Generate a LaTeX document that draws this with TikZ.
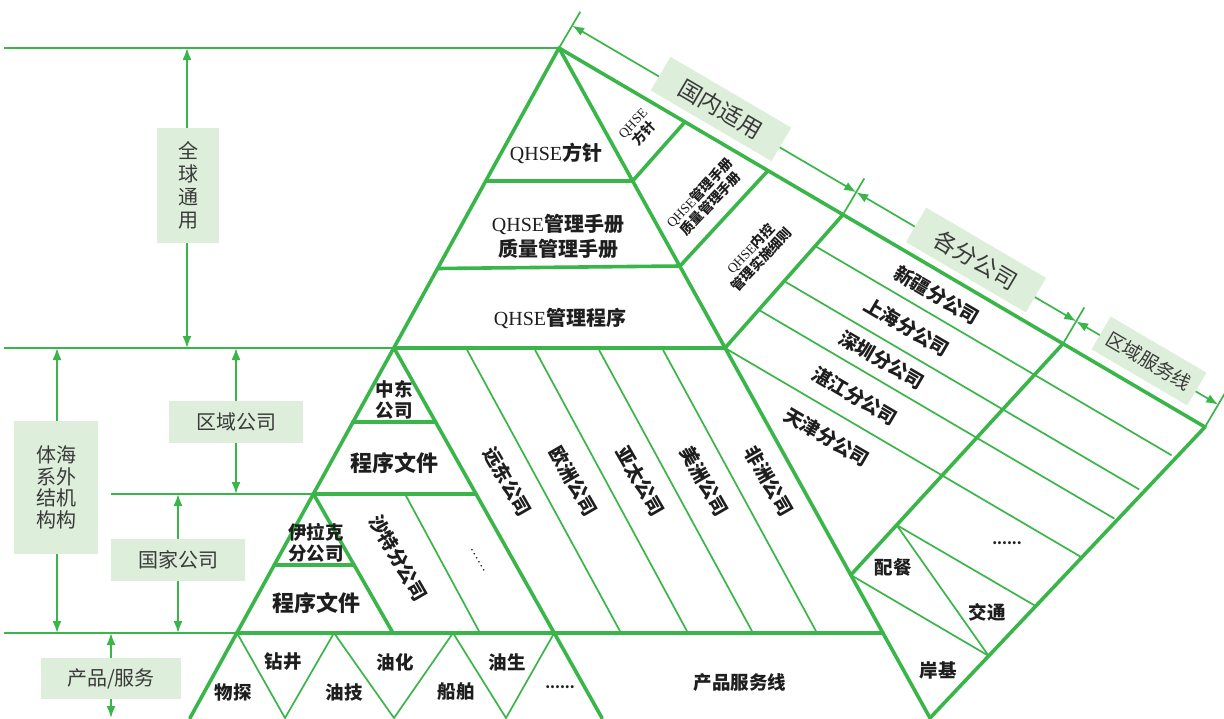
\documentclass[tikz,border=0pt]{standalone}
\usepackage{fontspec}
\setmainfont{Noto Sans CJK SC}
\newfontfamily\lat{Liberation Serif}
\usetikzlibrary{arrows.meta}
\definecolor{gr}{HTML}{3AB54A}
\definecolor{boxg}{HTML}{DDEEDB}
\definecolor{blk}{HTML}{1E1E1E}
\definecolor{dk}{HTML}{3A3A3A}
\newcommand\qhse{{\lat\mdseries QHSE}}
\begin{document}
\begin{tikzpicture}[x=1pt,y=-1pt,
 thk/.style={draw=gr,line width=3.6pt,line cap=round,line join=round},
 thn/.style={draw=gr,line width=1.7pt},
 arr/.style={draw=gr,line width=1.7pt,{Latex[length=12pt,width=9pt]}-{Latex[length=12pt,width=9pt]}},
 gbox/.style={fill=boxg,inner sep=0pt,text=dk,align=center,font=\fontsize{20}{23}\selectfont},
 lbl/.style={inner sep=0pt,text=blk,align=center,font=\bfseries\fontsize{18.5}{21}\selectfont},
 big/.style={lbl,font=\bfseries\fontsize{20}{25}\selectfont},
 prog/.style={lbl,font=\bfseries\fontsize{22}{24}\selectfont},
 sml/.style={lbl,font=\bfseries\fontsize{13.5}{15.5}\selectfont,rotate=46.7},
 sub/.style={lbl,font=\bfseries\fontsize{19}{21}\selectfont,rotate=-30.4},
 col/.style={lbl,font=\bfseries\fontsize{19}{21}\selectfont,rotate=-60},
]
\useasboundingbox (0,0) rectangle (1224,718);
% key points
\coordinate (A) at (559,48);
\coordinate (T) at (1205,427);
\coordinate (B) at (930,718);
\coordinate (L) at (190,718);
\coordinate (l1) at (486,181);   \coordinate (r1) at (632.6,181);
\coordinate (l2) at (437.5,268.5); \coordinate (r2) at (680,266);
\coordinate (l3) at (394,348);   \coordinate (r3) at (725,348);
\coordinate (l4) at (353,422);   \coordinate (m4) at (435.6,422);
\coordinate (l5) at (313.5,494); \coordinate (m5) at (476,494);
\coordinate (l6) at (274.4,565); \coordinate (m6) at (354,565);
\coordinate (l7) at (237,633);   \coordinate (r7) at (883,633);
\coordinate (q7) at (393,633);
\coordinate (R8) at (602,718);
\coordinate (t1) at (685,121.9); \coordinate (t2) at (768,170.6);
\coordinate (t3) at (843,214.6); \coordinate (t4) at (1063,343.7);
\coordinate (e4) at (850.8,575);
\coordinate (k5) at (896.6,525);
\coordinate (s5) at (1035.8,606.1);
\coordinate (s6) at (988.7,655.9);
% thin lines
\draw[thn] (4,48) -- (A);
\draw[thn] (4,348) -- (l3);
\draw[thn] (111,494) -- (l5);
\draw[thn] (4,633) -- (l7);
\draw[thn] (466,348) -- (621,633);
\draw[thn] (534,348) -- (688,633);
\draw[thn] (598,348) -- (753,633);
\draw[thn] (662,348) -- (817,633);
\draw[thn] (405,494) -- (480,633);
\draw[thn] (l7) -- (285,718) -- (334,633) -- (394,718) -- (453,633) -- (506,718) -- (554.2,633);
\draw[thn] (815,246) -- (1171.6,455.3);
\draw[thn] (784,281) -- (1139.3,489.5);
\draw[thn] (759,310) -- (1114.4,518.6);
\draw[thn] (r3) -- (1081.8,557.4);
\draw[thn] (k5) -- (s5);
\draw[thn] (e4) -- (s6);
\draw[thn] (k5) -- (s6);
% ticks and top arrows
\draw[thn] (A) -- ++(21.3,-36.2);
\draw[thn] (t3) -- ++(21.3,-36.2);
\draw[thn] (t4) -- ++(21.3,-36.2);
\draw[thn] (T) -- ++(21.3,-36.2);
\draw[arr] (572.2,25.6) -- (856.2,192.2);
\draw[arr] (856.2,192.2) -- (1076.2,321.3);
\draw[arr] (1076.2,321.3) -- (1218.2,404.6);
% vertical arrows
\draw[arr] (187,48) -- (187,348);
\draw[arr] (57,348) -- (57,633);
\draw[arr] (236,348) -- (236,494);
\draw[arr] (178,494) -- (178,633);
\draw[arr] (111,633) -- (111,718);
% thick lines
\draw[thk] (L) -- (A) -- (T) -- (B);
\draw[thk] (A) -- (B);
\draw[thk] (l1) -- (r1) -- (t1);
\draw[thk] (l2) -- (r2) -- (t2);
\draw[thk] (l3) -- (r3) -- (t3);
\draw[thk] (t4) -- (e4);
\draw[thk] (l3) -- (R8);
\draw[thk] (l4) -- (m4);
\draw[thk] (l5) -- (m5);
\draw[thk] (l5) -- (q7);
\draw[thk] (l6) -- (m6);
\draw[thk] (l7) -- (r7);
% label boxes
\node[gbox,minimum width=62pt,minimum height=115pt] (bqq) at (188,185.5) {全\\球\\通\\用};
\node[gbox,minimum width=84pt,minimum height=133pt,font=\fontsize{20}{21.7}\selectfont] (bhw) at (56,487.5) {体海\\系外\\结机\\构构};
\node[gbox,minimum width=134pt,minimum height=42pt] (bqy) at (236,422) {区域公司};
\node[gbox,minimum width=134pt,minimum height=42pt] (bgj) at (178,560) {国家公司};
\node[gbox,minimum width=140pt,minimum height=41pt] (bcp) at (111,678.5) {产品/服务};
\node[gbox,rotate=-30.4,minimum width=140pt,minimum height=39pt,font=\fontsize{23}{23}\selectfont] (bgn) at (721,109) {国内适用};
\node[gbox,rotate=-30.4,minimum width=139pt,minimum height=40pt,font=\fontsize{23}{23}\selectfont] (bgf) at (976,260) {各分公司};
\node[gbox,rotate=-30.4,minimum width=111pt,minimum height=38pt,font=\fontsize{19}{19}\selectfont] (bfw) at (1149,361) {区域服务线};
% left face labels
\node[big] (n1) at (556,153) {\qhse 方针};
\node[big] (n2) at (558,236) {\qhse 管理手册\\质量管理手册};
\node[big] (n3) at (560,318) {\qhse 管理程序};
\node[lbl] (n4) at (394,400) {中东\\公司};
\node[prog] (n5) at (394,463) {程序文件};
\node[lbl] (n6) at (316,543) {伊拉克\\分公司};
\node[prog] (n7) at (316,603) {程序文件};
\node[col] (n8) at (398,558) {沙特分公司};
\node[col,font=\lat\fontsize{14}{14}\selectfont] (n9) at (478,560) {……};
\node[col] (c1) at (507.6,481.7) {远东公司};
\node[col] (c2) at (573.7,481) {欧洲公司};
\node[col] (c3) at (640.6,481) {亚太公司};
\node[col] (c4) at (704.7,481) {美洲公司};
\node[col] (c5) at (768.8,481) {非洲公司};
% bottom row
\node[lbl] (p1) at (233,692) {物探};
\node[lbl] (p2) at (283,662) {钻井};
\node[lbl] (p3) at (344,692) {油技};
\node[lbl] (p4) at (395,662) {油化};
\node[lbl] (p5) at (456,692) {船舶};
\node[lbl] (p6) at (507,662) {油生};
\node[lbl,font=\bfseries\fontsize{14}{14}\selectfont] (p7) at (560,687) {......};
\node[lbl] (p8) at (740,683) {产品服务线};
% right face labels
\node[sml] (s1) at (639,129) {\qhse\\方针};
\node[sml] (s2) at (705,198) {\qhse 管理手册\\质量管理手册};
\node[sml] (s3) at (756,254) {\qhse 内控\\管理实施细则};
\node[sub] (f1) at (937,295) {新疆分公司};
\node[sub] (f2) at (907,327) {上海分公司};
\node[sub] (f3) at (882,360) {深圳分公司};
\node[sub] (f4) at (855,396) {湛江分公司};
\node[sub] (f5) at (827,437) {天津分公司};
\node[lbl,font=\bfseries\fontsize{14}{14}\selectfont] (d1) at (1007,543) {......};
\node[lbl] (g1) at (893,567) {配餐};
\node[lbl] (g2) at (987,612) {交通};
\node[lbl] (g3) at (938,670) {岸基};
\end{tikzpicture}
\end{document}
